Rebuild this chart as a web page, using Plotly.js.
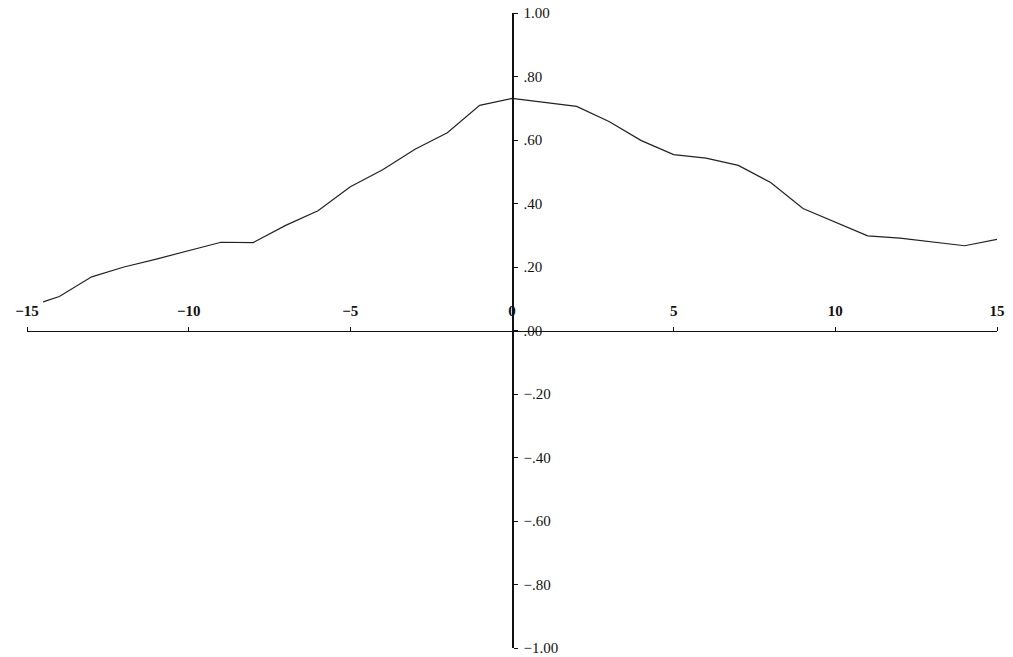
<!DOCTYPE html>
<html>
<head>
<meta charset="utf-8">
<script src="https://cdn.plot.ly/plotly-3.0.1.min.js"></script>
<style>
  html, body { margin: 0; padding: 0; background: #fff; }
  #chart { width: 1013px; height: 657px; }
</style>
</head>
<body>
<div id="chart"></div>
<script>
// Lag (x) and correlation value (y)
const lags = [-14.5, -14, -13, -12, -11, -10, -9, -8, -7, -6, -5, -4, -3, -2, -1,
              0, 1, 2, 3, 4, 5, 6, 7, 8, 9, 10, 11, 12, 13, 14, 15];
const values = [0.090, 0.107, 0.169, 0.200, 0.225, 0.251, 0.278, 0.277, 0.331, 0.377,
                0.453, 0.506, 0.571, 0.623, 0.709, 0.731, 0.718, 0.706, 0.658, 0.598,
                0.554, 0.543, 0.520, 0.466, 0.384, 0.342, 0.298, 0.291, 0.280, 0.267, 0.287];

const xTickVals = [-15, -10, -5, 0, 5, 10, 15];
const xTickText = ["\u221215", "\u221210", "\u22125", "0", "5", "10", "15"];
const yTickVals = [1, 0.8, 0.6, 0.4, 0.2, 0, -0.2, -0.4, -0.6, -0.8, -1];
const yTickText = ["1.00", ".80", ".60", ".40", ".20", ".00",
                   "\u2212.20", "\u2212.40", "\u2212.60", "\u2212.80", "\u22121.00"];

const serif = "Liberation Serif, DejaVu Serif, serif";

const trace = {
  x: lags,
  y: values,
  type: "scatter",
  mode: "lines",
  line: { color: "#222", width: 1.2 },
  showlegend: false,
  hoverinfo: "x+y"
};

const layout = {
  width: 1013,
  height: 657,
  margin: { l: 27, r: 16, t: 13, b: 9 },
  paper_bgcolor: "#ffffff",
  plot_bgcolor: "#ffffff",
  showlegend: false,
  font: { family: serif, size: 15, color: "#111" },
  xaxis: {
    range: [-15, 15],
    anchor: "free",
    position: 0.5,
    side: "top",
    showgrid: false,
    zeroline: false,
    showline: true,
    linecolor: "#111",
    linewidth: 1.5,
    ticks: "outside",
    ticklen: 4,
    tickwidth: 1,
    tickcolor: "#111",
    tickvals: xTickVals,
    ticktext: xTickText,
    tickfont: { family: serif, size: 15, color: "#111", weight: "bold" },
    ticklabelstandoff: 5
  },
  yaxis: {
    range: [-1, 1],
    anchor: "free",
    position: 0.5,
    side: "right",
    showgrid: false,
    zeroline: false,
    showline: true,
    linecolor: "#111",
    linewidth: 1.5,
    ticks: "outside",
    ticklen: 4,
    tickwidth: 1,
    tickcolor: "#111",
    tickvals: yTickVals,
    ticktext: yTickText,
    tickfont: { family: serif, size: 15, color: "#111" },
    ticklabelstandoff: 3
  }
};

Plotly.newPlot("chart", [trace], layout, { displayModeBar: false, staticPlot: true });
</script>
</body>
</html>
